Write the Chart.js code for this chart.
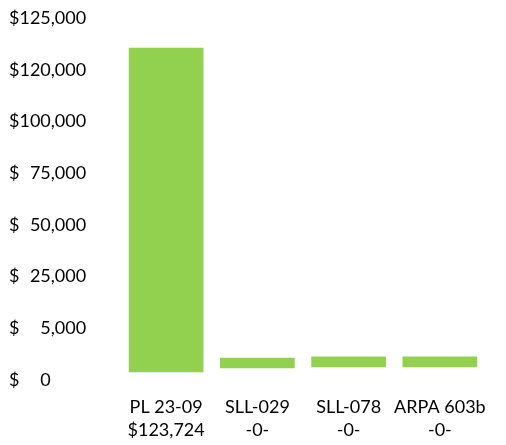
<!DOCTYPE html>
<html>
<head>
<meta charset="utf-8">
<script src="https://cdn.jsdelivr.net/npm/chart.js@4"></script>
<style>
  body { margin: 0; background: #fff; }
  canvas { display: block; }
</style>
</head>
<body>
<canvas id="chart" width="506" height="445"></canvas>
<script>
// programs and what each line under them reads
const programs = ['PL 23-09', 'SLL-029', 'SLL-078', 'ARPA 603b']
const amountLabels = ['$123,724', '-0-', '-0-', '-0-']

// the axis is not linear: every tick is one even step
const tickValues = [0, 5000, 25000, 50000, 75000, 100000, 120000, 125000]
const tickLabels = ['$\u2007\u20070', '$\u2007\u20075,000', '$\u200725,000', '$\u200750,000',
    '$\u200775,000', '$100,000', '$120,000', '$125,000']

// bars float: bottom and top in dollars
const barBottoms = [775, 1160, 1260, 1260]
const barTops = [122100, 2130, 2230, 2230]

function toAxis(v) {
    for (let i = 1; i < tickValues.length; i++) {
        if (v <= tickValues[i]) {
            const lo = tickValues[i - 1], hi = tickValues[i]
            return (i - 1) + (v - lo) / (hi - lo)
        }
    }
    return tickValues.length - 1
}

const bars = programs.map(function (p, i) {return [toAxis(barBottoms[i]), toAxis(barTops[i])]})
const font = {family: 'Lato', size: 18, lineHeight: 1.25}

const config = {
    type: 'bar',
    data: {
        labels: programs.map(function (p, i) {return [p, amountLabels[i]]}),
        datasets: [{
            data: bars,
            backgroundColor: '#92D050',
            borderWidth: 0,
            barThickness: 74,
        }]
    },
    options: {
        responsive: false,
        animation: false,
        layout: {padding: {left: 9, right: 20.5, top: 18, bottom: 0}},
        plugins: {legend: {display: false}, tooltip: {enabled: false}},
        scales: {
            x: {
                grid: {display: false, drawTicks: false},
                border: {display: false},
                ticks: {color: '#000', font: font, padding: 16, maxRotation: 0, autoSkip: false},
                afterFit: function (scale) {scale.height = 65},
            },
            y: {
                min: 0,
                max: tickValues.length - 1,
                grid: {display: false, drawTicks: false},
                border: {display: false},
                ticks: {
                    stepSize: 1,
                    color: '#000',
                    font: font,
                    crossAlign: 'far',
                    callback: function (v) {return tickLabels[v]},
                },
                afterFit: function (scale) {scale.width = 111.5},
            },
        },
    },
}

new Chart(document.querySelector('#chart'), config)
</script>
</body>
</html>
